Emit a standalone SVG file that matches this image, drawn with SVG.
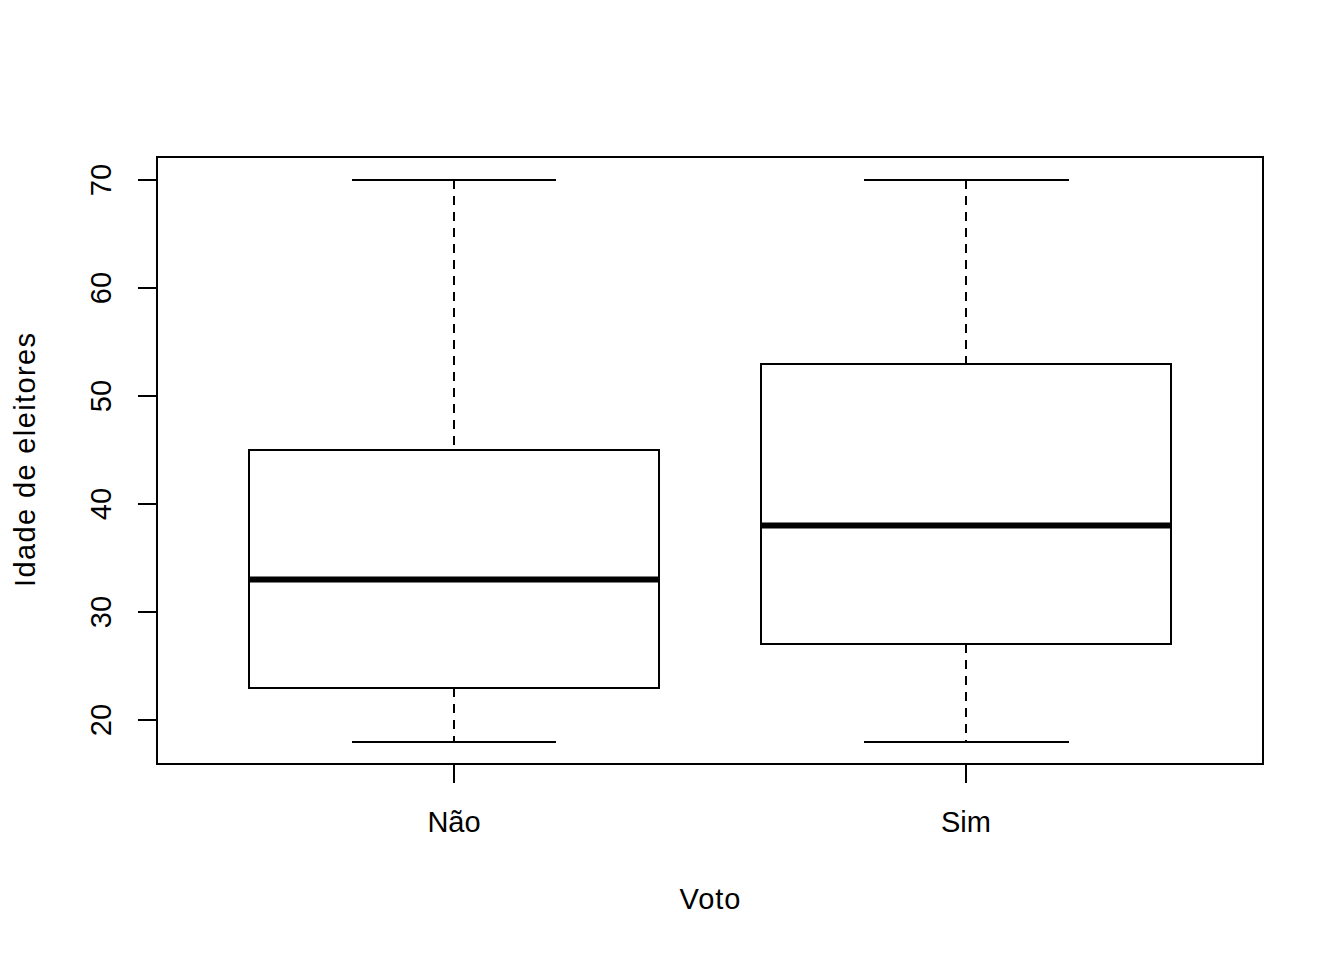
<svg xmlns="http://www.w3.org/2000/svg" width="1344" height="960" viewBox="0 0 1344 960">
<style>
.ln{stroke:#000;stroke-width:2;fill:none}
.ds{stroke:#000;stroke-width:2;fill:none;stroke-dasharray:9,7}
.md{stroke:#000;stroke-width:6;fill:none}
text{font-family:"Liberation Sans",Arial,sans-serif;font-size:29px;fill:#000}
</style>
<rect width="1344" height="960" fill="#fff"/>
<g id="frame">
<rect class="ln" x="157" y="157" width="1106" height="607"/>
</g>
<g id="yaxis">
<path class="ln" d="M138,180H157M138,288H157M138,396H157M138,504H157M138,612H157M138,720H157"/>
<text transform="translate(111,180) rotate(-90)" text-anchor="middle">70</text>
<text transform="translate(111,288) rotate(-90)" text-anchor="middle">60</text>
<text transform="translate(111,396) rotate(-90)" text-anchor="middle">50</text>
<text transform="translate(111,504) rotate(-90)" text-anchor="middle">40</text>
<text transform="translate(111,612) rotate(-90)" text-anchor="middle">30</text>
<text transform="translate(111,720) rotate(-90)" text-anchor="middle">20</text>
<text transform="translate(35,460) rotate(-90)" text-anchor="middle" textLength="254" lengthAdjust="spacing">Idade de eleitores</text>
</g>
<g id="xaxis">
<path class="ln" d="M454,764V783M966,764V783"/>
<text x="454" y="832" text-anchor="middle">Não</text>
<text x="966" y="832" text-anchor="middle">Sim</text>
<text x="710" y="909" text-anchor="middle" textLength="61" lengthAdjust="spacing">Voto</text>
</g>
<g id="connectors">
<path class="ds" d="M454,180V450M454,688V742M966,180V364M966,644V742"/>
</g>
<g id="box-nao">
<path class="ln" d="M352,180H556M352,742H556"/>
<rect class="ln" x="249" y="450" width="410" height="238" fill="#fff"/>
<path class="md" d="M249,579.6H659"/>
</g>
<g id="box-sim">
<path class="ln" d="M864,180H1069M864,742H1069"/>
<rect class="ln" x="761" y="364" width="410" height="280" fill="#fff"/>
<path class="md" d="M761,525.6H1171"/>
</g>
</svg>
